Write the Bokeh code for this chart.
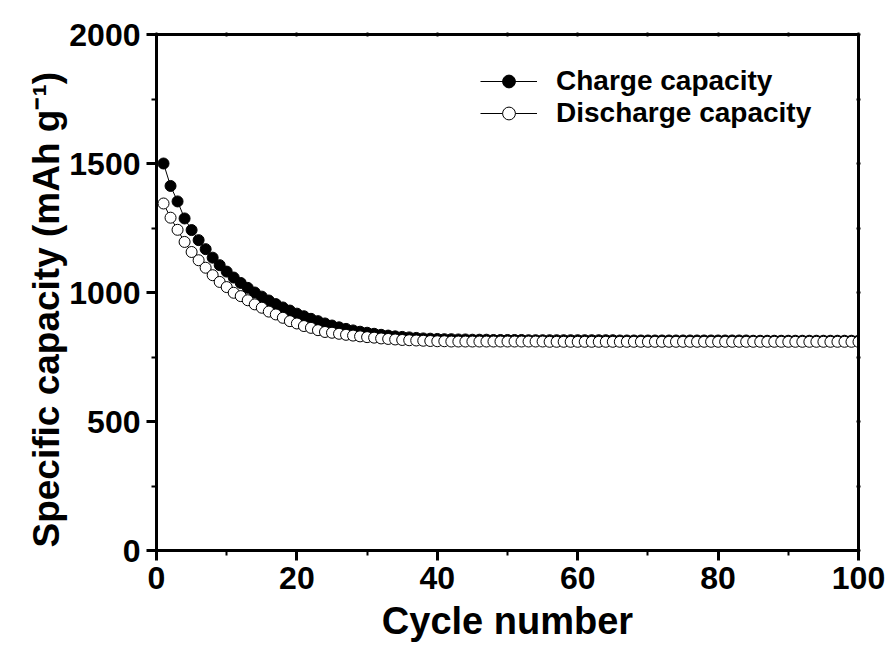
from bokeh.plotting import figure
from bokeh.models import (LinearAxis, SingleIntervalTicker, Range1d, Title,
                          CustomJSTickFormatter)
from bokeh.embed import file_html
from bokeh.resources import INLINE

cycles = list(range(1, 101))
charge = [1500, 1413, 1353, 1287, 1242, 1203, 1168, 1135, 1106, 1081,
          1058, 1037, 1018, 1000, 984, 969, 955, 942, 930, 918,
          908, 898, 889, 880, 872, 865, 859, 853, 848, 844,
          840, 836, 833, 830, 828, 826, 824, 822, 821, 820,
          819, 819, 818, 818, 817, 817, 817, 816, 816, 816,
          816, 816, 815, 815, 815, 815, 815, 815, 815, 815,
          815, 815, 815, 815, 815, 814, 814, 814, 814, 814,
          814, 814, 814, 814, 814, 814, 814, 814, 814, 814,
          814, 814, 814, 814, 813, 813, 813, 813, 813, 813,
          813, 813, 813, 813, 813, 813, 813, 813, 813, 813]
discharge = [1345, 1290, 1243, 1196, 1157, 1125, 1096, 1067, 1041, 1021,
             999, 986, 970, 954, 941, 926, 915, 902, 889, 880,
             870, 863, 854, 847, 844, 840, 836, 833, 830, 827,
             825, 822, 820, 818, 816, 815, 814, 813, 812, 811,
             811, 810, 810, 810, 810, 810, 810, 810, 810, 810,
             810, 810, 810, 810, 810, 809, 809, 809, 809, 809,
             809, 809, 809, 809, 809, 809, 809, 809, 809, 809,
             809, 809, 809, 809, 809, 809, 809, 809, 809, 809,
             809, 809, 809, 809, 809, 809, 809, 809, 809, 809,
             809, 809, 809, 809, 809, 809, 809, 809, 809, 809]
x_label = "Cycle number"
y_label = "Specific capacity (mAh g\u207b\u00b9)"
series_names = ["Charge capacity", "Discharge capacity"]

FONT = "Liberation Sans"

p = figure(width=890, height=651, x_range=Range1d(0, 100), y_range=Range1d(0, 2000),
           output_backend="svg", toolbar_location=None,
           min_border_left=156, min_border_right=32, min_border_top=34, min_border_bottom=101)
p.grid.visible = False
p.outline_line_color = "black"
p.outline_line_width = 3
p.background_fill_color = "white"
p.border_fill_color = "white"

xax = p.xaxis[0]
yax = p.yaxis[0]
xax.ticker = SingleIntervalTicker(interval=20, num_minor_ticks=2)
yax.ticker = SingleIntervalTicker(interval=500, num_minor_ticks=2)
for ax in (xax, yax):
    ax.axis_line_width = 3
    ax.major_tick_line_width = 3
    ax.minor_tick_line_width = 2
    ax.major_tick_out = 10
    ax.major_tick_in = 0
    ax.minor_tick_out = 5
    ax.minor_tick_in = 0
    ax.major_label_text_font = FONT
    ax.major_label_text_font_style = "bold"
    ax.major_label_text_font_size = "32px"
    ax.major_label_text_color = "black"
    ax.major_label_standoff = 6
xax.axis_label = x_label
xax.axis_label_text_font = FONT
xax.axis_label_text_font_style = "bold"
xax.axis_label_text_font_size = "38px"
xax.axis_label_text_color = "black"
xax.axis_label_standoff = 8

# decorative top / right axes with small ticks
top = LinearAxis(ticker=SingleIntervalTicker(interval=10, num_minor_ticks=0),
                 formatter=CustomJSTickFormatter(code="return ''"))
right = LinearAxis(ticker=SingleIntervalTicker(interval=250, num_minor_ticks=0),
                   formatter=CustomJSTickFormatter(code="return ''"))
for ax in (top, right):
    ax.axis_line_width = 3
    ax.major_tick_out = 2
    ax.major_tick_in = 2
    ax.major_tick_line_width = 2
    ax.minor_tick_out = 0
    ax.minor_tick_in = 0
    ax.major_label_text_font_size = "1px"
p.add_layout(top, "above")
p.add_layout(right, "right")

# series
p.line(cycles, charge, line_color="black", line_width=1, legend_label=series_names[0])
p.scatter(cycles, charge, size=11, marker="circle", fill_color="black",
          line_color="black", line_width=1, legend_label=series_names[0])
p.line(cycles, discharge, line_color="black", line_width=1, legend_label=series_names[1])
p.scatter(cycles, discharge, size=11, marker="circle", fill_color="white",
          line_color="black", line_width=1, legend_label=series_names[1])

lg = p.legend[0]
lg.location = (324, 421)
lg.border_line_color = None
lg.background_fill_alpha = 0
lg.padding = 0
lg.margin = 0
lg.spacing = 0
lg.glyph_width = 57
lg.glyph_height = 32
lg.label_height = 32
lg.label_standoff = 19
lg.label_text_font = FONT
lg.label_text_font_style = "bold"
lg.label_text_font_size = "28px"
lg.label_text_color = "black"

# y axis title as a left-side title, anchored near the frame bottom
ytitle = Title(text=y_label, align="left", offset=3, standoff=0,
               text_font=FONT, text_font_style="bold", text_font_size="37px",
               text_color="black")
p.add_layout(ytitle, "left")

open("out.html", "w").write(file_html(p, INLINE))
